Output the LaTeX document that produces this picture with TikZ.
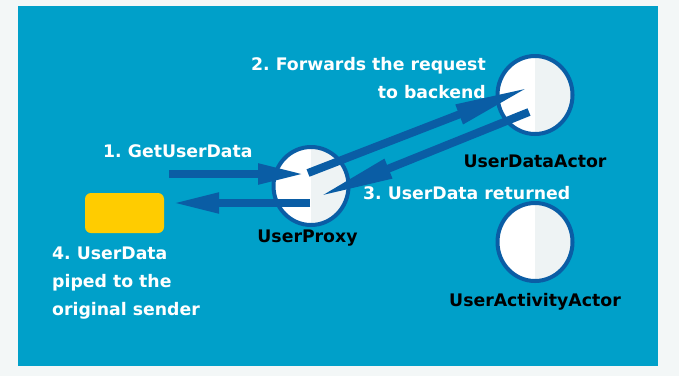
\documentclass[tikz,border=0pt]{standalone}
\usepackage{fontspec}
\setmainfont{DejaVu Sans}
\usetikzlibrary{arrows.meta,shapes.geometric,calc}
\definecolor{pagegray}{HTML}{F3F7F7}
\definecolor{panelblue}{HTML}{00A0C9}
\definecolor{deepblue}{HTML}{0A5DA5}
\definecolor{shadegray}{HTML}{EEF3F4}
\definecolor{senderyellow}{HTML}{FFCC00}
\frenchspacing
\begin{document}
\begin{tikzpicture}[x=1pt,y=-1pt,
  actor/.style={ellipse, draw=deepblue, line width=4pt, fill=white,
    minimum width=75pt, minimum height=78pt, inner sep=0pt,
    path picture={\fill[shadegray] (path picture bounding box.north)
      rectangle (path picture bounding box.south east);}},
  sender/.style={rectangle, rounded corners=6pt, fill=senderyellow,
    minimum width=79pt, minimum height=40pt, inner sep=0pt},
  labelfont/.style={font=\fontsize{17.3}{28}\selectfont\bfseries, inner sep=0pt},
  stepnote/.style={labelfont, text=white},
  actorname/.style={labelfont, text=black, anchor=base},
  flow/.style={draw=deepblue, line width=8pt, -{Triangle[length=47pt,width=19pt]}},
  longflow/.style={draw=deepblue, line width=8pt, -{Triangle[length=76pt,width=19pt]}}
]
% page and panel
\fill[pagegray] (0,0) rectangle (679,376);
\fill[panelblue] (18,6) rectangle (658,366);
\useasboundingbox (0,0) rectangle (679,376);

% actors and the original sender
\node[actor] (proxy) at (311,186) {};
\node[actor] (data) at (535,95) {};
\node[actor] (activity) at (535,242) {};
\node[sender] (origin) at (124.5,213) {};

% actor names
\node[actorname] (proxyname) at (307.5,242) {UserProxy};
\node[actorname] (dataname) at (535,167) {UserDataActor};
\node[actorname] (activityname) at (535,306) {UserActivityActor};

% arrow end points
\coordinate (requestin) at (169,174);
\coordinate (proxyrecv) at ($(proxy.center)+(-6,-12)$);
\coordinate (proxyfwd) at ($(proxy.center)+(-3,-13)$);
\coordinate (proxyback) at ($(proxy.center)+(7,11)$);
\coordinate (proxyout) at ($(proxy.center)+(-1,17)$);
\coordinate (datarecv) at ($(data.center)+(-5,-8)$);
\coordinate (datareply) at ($(data.center)+(-6,17)$);
\coordinate (originin) at ($(origin.east)+(8,-10)$);

% message flow
\draw[flow] (requestin) -- (proxyrecv);
\draw[longflow] (proxyfwd) -- (datarecv);
\draw[longflow] (datareply) -- (proxyback);
\draw[flow] (proxyout) -- (originin);

% step notes (multi-line notes are anchored on their last baseline)
\node[stepnote, anchor=base west] (step1) at (103,157) {1. GetUserData};
\node[stepnote, anchor=base east, align=right] (step2) at (486,98) {2. Forwards the request\\to backend};
\node[stepnote, anchor=base west] (step3) at (363,199) {3. UserData returned};
\node[stepnote, anchor=base west, align=left] (step4) at (52,315) {4. UserData\\piped to the\\original sender};
\end{tikzpicture}
\end{document}
